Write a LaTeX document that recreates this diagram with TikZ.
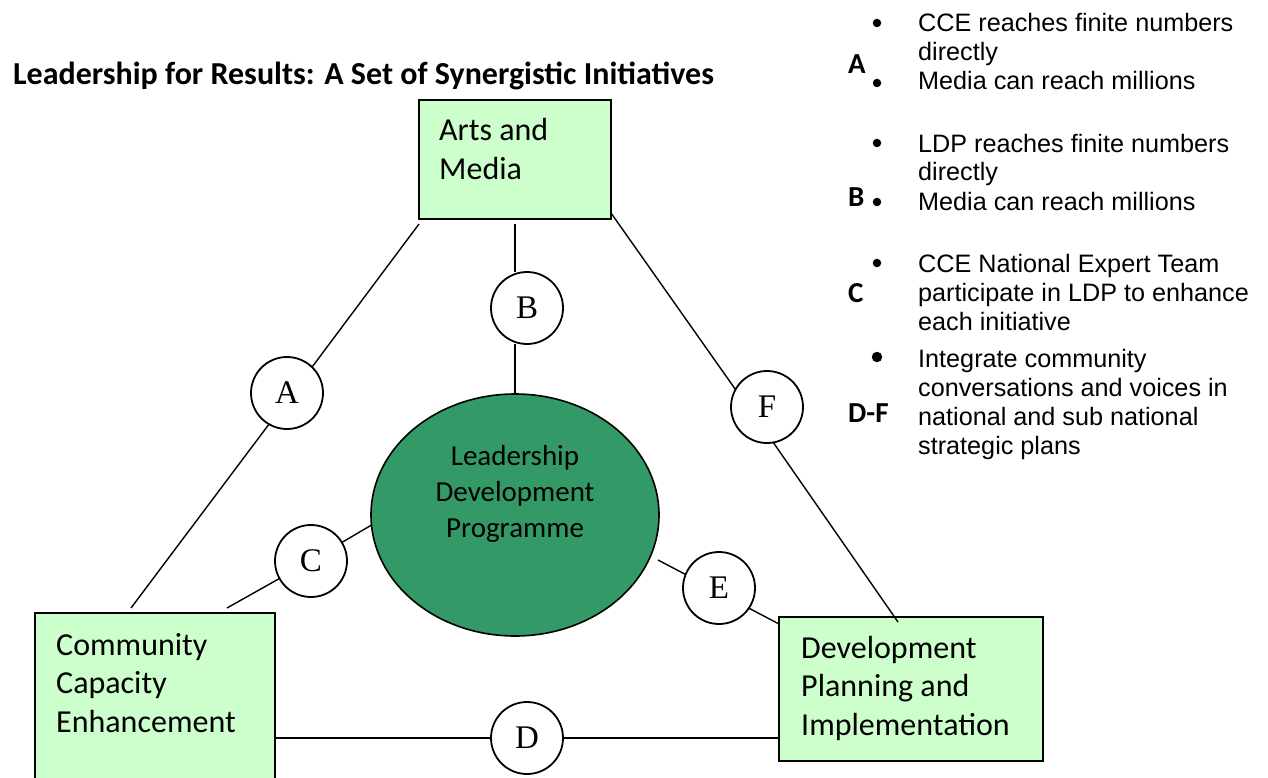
\documentclass[tikz,border=0pt]{standalone}
\usepackage{fontspec}
\usetikzlibrary{shapes.geometric,backgrounds}
\newfontfamily\calfont{Carlito}
\newfontfamily\arialfont{Liberation Sans}
\newfontfamily\timesfont{Liberation Serif}
\definecolor{boxgreen}{HTML}{CCFFCC}
\definecolor{ldpgreen}{HTML}{339966}
\begin{document}
\begin{tikzpicture}[x=1pt,y=-1pt,
  conn/.style={line width=1.4pt},
  boxnode/.style={draw, line width=2pt, fill=boxgreen, inner sep=0pt, outer sep=0pt, anchor=north west},
  boxtext/.style={anchor=base west, align=left, inner sep=0pt, font=\calfont\fontsize{32}{38.5}\selectfont},
  letterc/.style={circle, draw, line width=1.8pt, fill=white, minimum size=72pt, inner sep=0pt, outer sep=0pt, font=\timesfont\fontsize{33}{33}\selectfont},
  note/.style={anchor=base west, align=left, inner sep=0pt, font=\arialfont\fontsize{25.2}{29}\selectfont},
  lbl/.style={anchor=base west, inner sep=0pt, font=\calfont\bfseries\fontsize{29}{29}\selectfont},
  dot/.style={circle, fill, inner sep=0pt, minimum size=8.5pt},
]
\useasboundingbox (0,0) rectangle (1268,778);
\clip (0,0) rectangle (1268,778);

\node[anchor=base west, inner sep=0pt, font=\calfont\bfseries\fontsize{32}{32}\selectfont] (title) at (13,85) {Leadership for Results: A Set of Synergistic Initiatives};

% boxes (text anchors are at the baseline of the last line)
\node[boxnode, minimum width=192pt, minimum height=119pt] (arts) at (419,100) {};
\node[boxtext] (artst) at (439,179) {Arts and\\Media};
\node[boxnode, minimum width=240pt, minimum height=190pt] (comm) at (35,613) {};
\node[boxtext] (commt) at (56,732) {Community\\Capacity\\Enhancement};
\node[boxnode, minimum width=264pt, minimum height=144pt] (dev) at (779,617) {};
\node[boxtext] (devt) at (801,735) {Development\\Planning and\\Implementation};

\node[ellipse, draw, line width=1.6pt, fill=ldpgreen, minimum width=288pt, minimum height=242pt, inner sep=0pt, outer sep=0pt] (ldp) at (515,515) {};
\node[anchor=base, align=center, inner sep=0pt, font=\calfont\fontsize{29}{35.7}\selectfont] (ldpt) at (515,537) {Leadership\\Development\\Programme};

\node[letterc] (A) at (287,393) {A};
\node[letterc] (B) at (527,308) {B};
\node[letterc] (F) at (767,407) {F};
\node[letterc] (C) at (311,561) {C};
\node[letterc] (E) at (719,588) {E};
\node[letterc] (D) at (527,738) {D};

\begin{scope}[on background layer]
\draw[conn] ([yshift=-5pt]arts.south west) -- (A.46);
\draw[conn] (A.240) -- ([xshift=96pt,yshift=5pt]comm.north west);
\draw[conn] ([yshift=-5pt]arts.south) -- (arts.south |- B.north);
\draw[conn] (arts.south |- B.south) -- (ldp.north);
\draw[conn] ([yshift=6pt]arts.south east) -- (F.151);
\draw[conn] (ldp.184) -- (C.31);
\draw[conn] (C.209) -- ([xshift=192pt,yshift=5pt]comm.north west);
\draw[conn] ([shift={(143pt,-45pt)}]ldp.center) -- (E.158);
\draw[conn] (E.326) -- ([yshift=-7pt]dev.north west);
\draw[conn] (comm.east |- D) -- (D.west);
\draw[conn] (D.east) -- (dev.west |- D);
\end{scope}
\draw[conn] (F.280) -- ([xshift=119pt,yshift=-5pt]dev.north west);

\node[dot] (b1) at (877,23) {};
\node[dot] (b2) at (877,83) {};
\node[note] (na) at (918,90) {CCE reaches finite numbers\\directly\\Media can reach millions};
\node[lbl] (la) at (848,74) {A};

\node[dot] (b3) at (877,143) {};
\node[dot] (b4) at (877,202) {};
\node[note] (nb) at (918,210) {LDP reaches finite numbers\\directly\\Media can reach millions};
\node[lbl] (lb) at (848,206) {B};

\node[dot] (b5) at (877,263) {};
\node[note] (nc) at (918,330) {CCE National Expert Team\\participate in LDP to enhance\\each initiative};
\node[lbl] (lc) at (848,302) {C};

\node[dot, minimum size=10.5pt] (b6) at (877,357) {};
\node[note] (nd) at (918,454) {Integrate community\\conversations and voices in\\national and sub national\\strategic plans};
\node[lbl] (ld) at (848,422) {D-F};
\end{tikzpicture}
\end{document}
